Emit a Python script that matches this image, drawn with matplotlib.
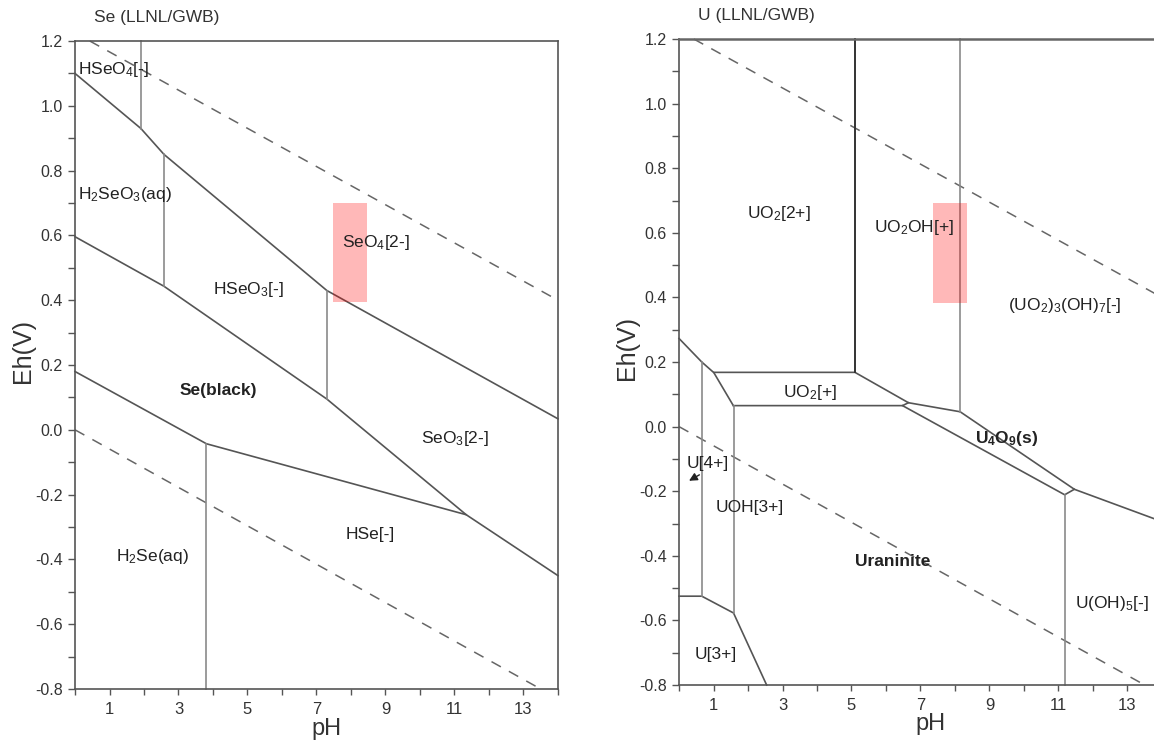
import matplotlib
matplotlib.use("Agg")
import matplotlib.pyplot as plt
from matplotlib.patches import Rectangle

plt.rcParams['font.family'] = ['Liberation Sans', 'DejaVu Sans']
plt.rcParams['mathtext.fontset'] = 'custom'
plt.rcParams['mathtext.rm'] = 'Liberation Sans'
plt.rcParams['mathtext.it'] = 'Liberation Sans:italic'
plt.rcParams['mathtext.bf'] = 'Liberation Sans:bold'

# water stability limits (dashed)
water_upper = [(0.43, 1.2), (14.0, 0.40)]
water_lower = [(0.0, 0.0), (13.5, -0.8)]

# ---- Se diagram: boundaries as (pH, Eh) points ----
se_upper = [(0, 1.10), (1.91, 0.93), (2.58, 0.85), (7.3, 0.43), (14, 0.034)]
se_middle = [(0, 0.596), (2.58, 0.443), (7.3, 0.095), (11.34, -0.262), (14, -0.45)]
se_lower = [(0, 0.18), (3.81, -0.043), (11.34, -0.262)]
# vertical boundaries: (pH, Eh top, Eh bottom)
se_verticals = [(1.91, 1.2, 0.93), (2.58, 0.85, 0.443), (7.3, 0.43, 0.095), (3.81, -0.043, -0.8)]
# region labels: (text, pH, Eh, bold)
se_labels = [
    (r"HSeO$_4$[-]", 0.09, 1.112, False),
    (r"H$_2$SeO$_3$(aq)", 0.09, 0.726, False),
    (r"SeO$_4$[2-]", 7.73, 0.579, False),
    (r"HSeO$_3$[-]", 4.0, 0.433, False),
    ("Se(black)", 3.04, 0.12, True),
    (r"SeO$_3$[2-]", 10.03, -0.026, False),
    ("HSe[-]", 7.85, -0.324, False),
    (r"H$_2$Se(aq)", 1.18, -0.39, False),
]
se_box = (7.48, 8.45, 0.395, 0.70)  # pH min, pH max, Eh min, Eh max

# ---- U diagram ----
u_left = [(0, 0.273), (0.66, 0.20), (1.01, 0.167), (1.58, 0.064)]
u_upper = [(1.01, 0.168), (5.1, 0.168), (6.65, 0.074), (8.15, 0.046), (11.46, -0.194), (14, -0.294)]
u_lower = [(1.58, 0.065), (6.48, 0.065), (6.65, 0.074)]
u_lower2 = [(6.48, 0.065), (11.18, -0.211), (11.46, -0.194)]
u_bottom = [(0, -0.525), (0.66, -0.525), (1.58, -0.577), (2.54, -0.8)]
u_verticals = [(8.15, 1.2, 0.046), (0.66, 0.20, -0.525), (1.58, 0.065, -0.577), (11.18, -0.211, -0.8)]
u_dark_vertical = (5.1, 1.2, 0.168)
u_labels = [
    (r"UO$_2$[2+]", 1.96, 0.661, False),
    (r"UO$_2$OH[+]", 5.65, 0.617, False),
    (r"(UO$_2$)$_3$(OH)$_7$[-]", 9.53, 0.374, False),
    (r"UO$_2$[+]", 3.0, 0.107, False),
    (r"U$_\mathbf{4}$O$_\mathbf{9}$(s)", 8.58, -0.038, True),
    ("U[4+]", 0.22, -0.113, False),
    (r"UOH[3+]", 1.06, -0.251, False),
    ("Uraninite", 5.1, -0.419, True),
    (r"U(OH)$_5$[-]", 11.49, -0.549, False),
    ("U[3+]", 0.44, -0.707, False),
]
u_arrow = ((0.66, -0.145), (0.22, -0.172))  # tail, head
u_box = (7.37, 8.35, 0.382, 0.692)

line_col = '#555555'
vert_col = '#8a8a8a'


def polyline(ax, pts, color=line_col, lw=1.2, ls='-'):
    xs = [p[0] for p in pts]
    ys = [p[1] for p in pts]
    ax.plot(xs, ys, color=color, lw=lw, ls=ls, zorder=2, clip_on=False)


def setup(ax, title):
    ax.set_xlim(0, 14)
    ax.set_ylim(-0.8, 1.2)
    ax.set_xticks([1, 3, 5, 7, 9, 11, 13])
    ax.set_xticks(range(0, 15, 2), minor=True)
    ax.set_yticks([-0.8, -0.6, -0.4, -0.2, 0.0, 0.2, 0.4, 0.6, 0.8, 1.0, 1.2])
    ax.set_yticks([-0.7, -0.5, -0.3, -0.1, 0.1, 0.3, 0.5, 0.7, 0.9, 1.1], minor=True)
    ax.set_yticklabels(["-0.8", "-0.6", "-0.4", "-0.2", "0.0", "0.2", "0.4", "0.6", "0.8", "1.0", "1.2"])
    ax.tick_params(which='both', direction='out', color='#555555', width=1.0)
    ax.tick_params(axis='y', which='both', length=5, pad=4, labelsize=11.5, labelcolor='#333333')
    ax.tick_params(axis='x', which='both', length=4, pad=5, labelsize=12, labelcolor='#333333')
    for s in ax.spines.values():
        s.set_color('#555555')
        s.set_linewidth(1.2)
    ax.set_xlabel('pH', fontsize=17, color='#333333')
    ax.set_ylabel('Eh(V)', fontsize=18, color='#333333')
    ax.xaxis.set_label_coords(0.52, -0.044)
    ax.yaxis.set_label_coords(-0.083, 0.522)
    ax.text(0.039, 1.036, title, transform=ax.transAxes, fontsize=12.5,
            color='#333333', ha='left', va='center')
    polyline(ax, water_upper, color='#666666', lw=1.1, ls=(0, (7, 6)))
    polyline(ax, water_lower, color='#666666', lw=1.1, ls=(0, (7, 6)))


def labels(ax, items):
    for txt, x, y, bold in items:
        ax.text(x, y, txt, fontsize=12.5, color='#222222', ha='left', va='center',
                fontweight='bold' if bold else 'normal', zorder=4)


def box(ax, b):
    ax.add_patch(Rectangle((b[0], b[2]), b[1] - b[0], b[3] - b[2],
                           facecolor='#ff0000', alpha=0.28, edgecolor='none', zorder=3))


fig = plt.figure(figsize=(11.54, 7.42), dpi=100)

# left: Se
ax1 = fig.add_axes([0.065, 0.0714, 0.4185, 0.8733])
setup(ax1, "Se (LLNL/GWB)")
for pts in (se_upper, se_middle, se_lower):
    polyline(ax1, pts)
for x, y0, y1 in se_verticals:
    polyline(ax1, [(x, y0), (x, y1)], color=vert_col)
box(ax1, se_box)
labels(ax1, se_labels)

# right: U (runs past the right edge of the picture)
ax2 = fig.add_axes([0.5884, 0.0768, 0.4185, 0.8706])
setup(ax2, "U (LLNL/GWB)")
ax2.spines['top'].set_color('#666666')
ax2.spines['top'].set_linewidth(1.8)
for pts in (u_left, u_upper, u_lower, u_lower2, u_bottom):
    polyline(ax2, pts)
for x, y0, y1 in u_verticals:
    polyline(ax2, [(x, y0), (x, y1)], color=vert_col)
polyline(ax2, [(u_dark_vertical[0], u_dark_vertical[1]), (u_dark_vertical[0], u_dark_vertical[2])],
         color='#333333', lw=1.4)
box(ax2, u_box)
labels(ax2, u_labels)
ax2.annotate('', xy=u_arrow[1], xytext=u_arrow[0],
             arrowprops=dict(arrowstyle='-|>', color='#222222', lw=1.0, mutation_scale=12))

fig.savefig('out.png', dpi=100)
